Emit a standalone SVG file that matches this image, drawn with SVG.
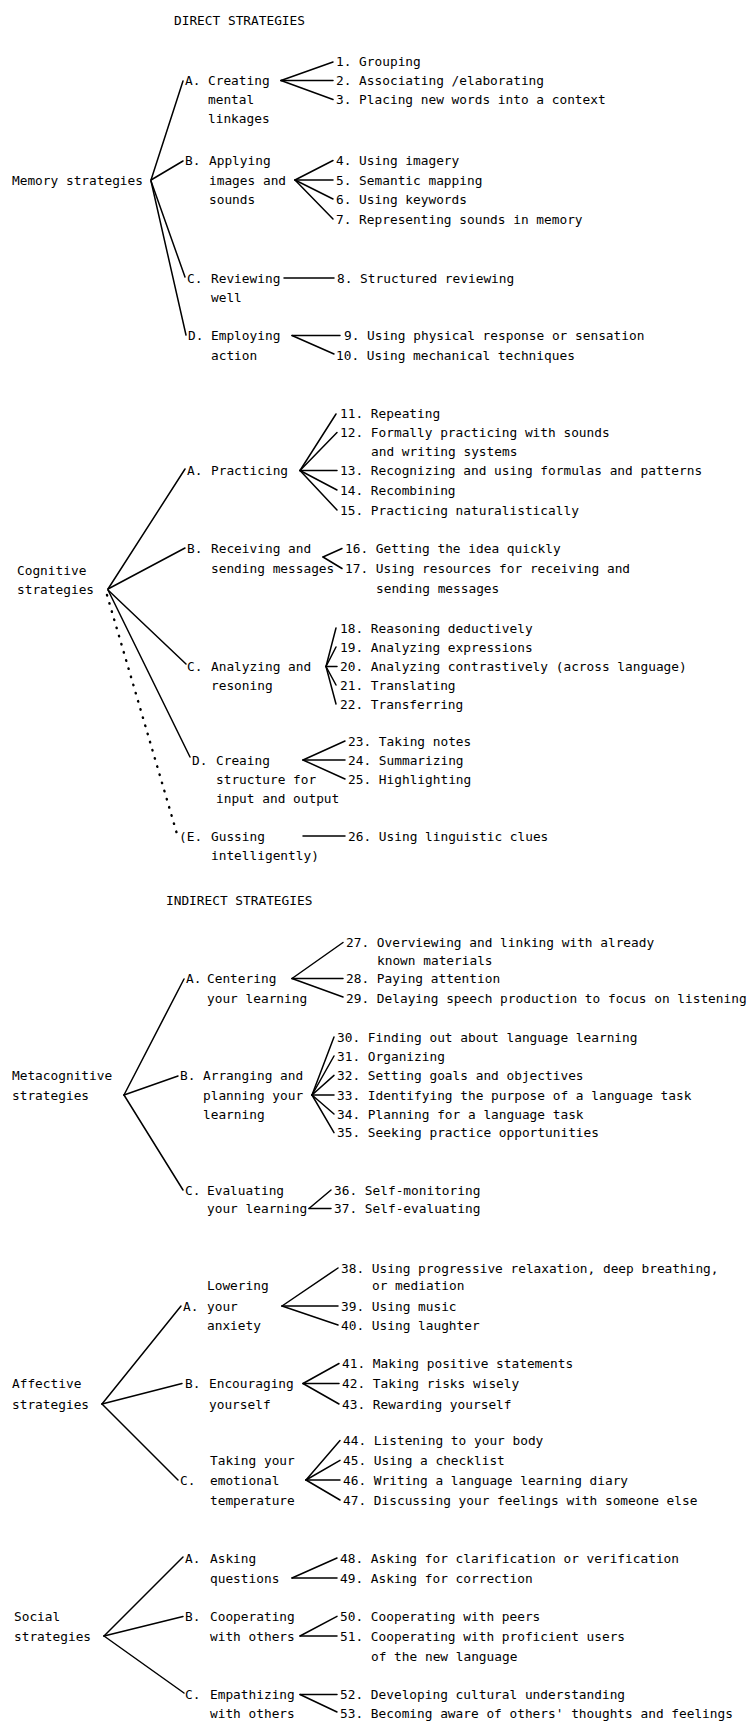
<svg xmlns="http://www.w3.org/2000/svg" width="751" height="1725" viewBox="0 0 751 1725">
<style>
text{font-family:"DejaVu Sans Mono","Liberation Mono",monospace;font-size:12.8px;fill:#000}
.c line{stroke:#000;stroke-width:1.5;fill:none;stroke-linecap:round}
.c line.dot{stroke-width:2.4;stroke-dasharray:0.5 8}
</style>
<rect width="751" height="1725" fill="#fff"/>
<g id="connectors" class="c">
<line x1="151" y1="180" x2="183" y2="81"/>
<line x1="151" y1="180" x2="183" y2="161"/>
<line x1="151" y1="181" x2="185" y2="277"/>
<line x1="151" y1="181" x2="186" y2="335"/>
<line x1="281" y1="80.5" x2="333" y2="62"/>
<line x1="281" y1="80.5" x2="333" y2="80.5"/>
<line x1="281" y1="80.5" x2="333" y2="99.5"/>
<line x1="295" y1="180" x2="333" y2="160.5"/>
<line x1="295" y1="180" x2="333" y2="180"/>
<line x1="295" y1="180" x2="333" y2="199"/>
<line x1="295" y1="180" x2="333" y2="219"/>
<line x1="284" y1="278" x2="334" y2="278"/>
<line x1="292" y1="335.5" x2="340" y2="335.5"/>
<line x1="292" y1="335.5" x2="334" y2="354"/>
<line x1="108" y1="589" x2="185" y2="469"/>
<line x1="108" y1="589" x2="185" y2="548"/>
<line x1="108" y1="590" x2="186" y2="664"/>
<line x1="108" y1="590" x2="190" y2="757"/>
<line class="dot" x1="107" y1="595" x2="177" y2="834"/>
<line x1="300" y1="470.5" x2="336" y2="414"/>
<line x1="300" y1="470.5" x2="337" y2="432.5"/>
<line x1="300" y1="470.5" x2="337" y2="470.5"/>
<line x1="300" y1="470.5" x2="337" y2="490"/>
<line x1="300" y1="470.5" x2="337" y2="510"/>
<line x1="323" y1="557" x2="342" y2="548.5"/>
<line x1="323" y1="557" x2="342" y2="568.5"/>
<line x1="326" y1="666.5" x2="336" y2="628"/>
<line x1="326" y1="666.5" x2="336" y2="647"/>
<line x1="326" y1="666.5" x2="337" y2="666.5"/>
<line x1="326" y1="666.5" x2="336" y2="685"/>
<line x1="326" y1="666.5" x2="336" y2="704"/>
<line x1="303" y1="760" x2="345" y2="741"/>
<line x1="303" y1="760" x2="345" y2="760"/>
<line x1="303" y1="760" x2="345" y2="779"/>
<line x1="303" y1="836" x2="345" y2="836"/>
<line x1="124" y1="1095" x2="184" y2="979"/>
<line x1="124" y1="1095" x2="178" y2="1076"/>
<line x1="124" y1="1095" x2="183" y2="1190"/>
<line x1="292" y1="978.5" x2="343" y2="942.5"/>
<line x1="292" y1="978.5" x2="343" y2="978.5"/>
<line x1="292" y1="978.5" x2="343" y2="997"/>
<line x1="312" y1="1095" x2="334" y2="1037"/>
<line x1="312" y1="1095" x2="334" y2="1056"/>
<line x1="312" y1="1095" x2="334" y2="1075.4"/>
<line x1="312" y1="1095" x2="334" y2="1095"/>
<line x1="312" y1="1095" x2="334" y2="1114"/>
<line x1="312" y1="1095" x2="334" y2="1132.6"/>
<line x1="309" y1="1208.5" x2="331" y2="1190"/>
<line x1="309" y1="1208.5" x2="331" y2="1208.5"/>
<line x1="102" y1="1404" x2="181" y2="1306"/>
<line x1="102" y1="1404" x2="182" y2="1383.5"/>
<line x1="102" y1="1404" x2="178" y2="1480"/>
<line x1="282" y1="1306" x2="338" y2="1268"/>
<line x1="282" y1="1306" x2="338" y2="1306"/>
<line x1="282" y1="1306" x2="338" y2="1325"/>
<line x1="303" y1="1383.5" x2="339" y2="1363.5"/>
<line x1="303" y1="1383.5" x2="339" y2="1383.5"/>
<line x1="303" y1="1383.5" x2="339" y2="1404"/>
<line x1="306" y1="1480" x2="340" y2="1440.5"/>
<line x1="306" y1="1480" x2="340" y2="1460.3"/>
<line x1="306" y1="1480" x2="340" y2="1480"/>
<line x1="306" y1="1480" x2="340" y2="1500"/>
<line x1="104" y1="1636" x2="183" y2="1557"/>
<line x1="104" y1="1636" x2="183" y2="1616.4"/>
<line x1="104" y1="1636" x2="184" y2="1693"/>
<line x1="292" y1="1578" x2="337" y2="1558"/>
<line x1="292" y1="1578" x2="337" y2="1578"/>
<line x1="300" y1="1636" x2="337" y2="1616.4"/>
<line x1="300" y1="1636" x2="337" y2="1636"/>
<line x1="300" y1="1694.5" x2="337" y2="1694.5"/>
<line x1="300" y1="1694.5" x2="337" y2="1712"/>
</g>
<g id="direct-heading"><text x="174" y="25">DIRECT STRATEGIES</text></g>
<g id="memory"><text x="12" y="184.5">Memory strategies</text></g>
<g id="mem-a"><text y="85"><tspan x="185">A.</tspan><tspan x="208">Creating</tspan></text><text x="208" y="104">mental</text><text x="208" y="123">linkages</text></g>
<g id="i1"><text x="336" y="66">1. Grouping</text></g>
<g id="i2"><text x="336" y="85">2. Associating /elaborating</text></g>
<g id="i3"><text x="336" y="104">3. Placing new words into a context</text></g>
<g id="mem-b"><text y="165"><tspan x="185">B.</tspan><tspan x="209">Applying</tspan></text><text x="209" y="184.5">images and</text><text x="209" y="203.5">sounds</text></g>
<g id="i4"><text x="336" y="165">4. Using imagery</text></g>
<g id="i5"><text x="336" y="184.5">5. Semantic mapping</text></g>
<g id="i6"><text x="336" y="203.5">6. Using keywords</text></g>
<g id="i7"><text x="336" y="223.5">7. Representing sounds in memory</text></g>
<g id="mem-c"><text y="282.5"><tspan x="187">C.</tspan><tspan x="211">Reviewing</tspan></text><text x="211" y="301.5">well</text></g>
<g id="i8"><text x="337" y="282.5">8. Structured reviewing</text></g>
<g id="mem-d"><text y="340"><tspan x="188">D.</tspan><tspan x="211">Employing</tspan></text><text x="211" y="359.5">action</text></g>
<g id="i9"><text y="340"><tspan x="344">9.</tspan><tspan x="367">Using physical response or sensation</tspan></text></g>
<g id="i10"><text x="336" y="359.5">10. Using mechanical techniques</text></g>
<g id="cognitive"><text x="17" y="574.5">Cognitive</text><text x="17" y="594">strategies</text></g>
<g id="cog-a"><text y="475"><tspan x="187">A.</tspan><tspan x="211">Practicing</tspan></text></g>
<g id="i11"><text x="340" y="418">11. Repeating</text></g>
<g id="i12"><text x="340" y="436.5">12. Formally practicing with sounds</text><text x="371" y="455.5">and writing systems</text></g>
<g id="i13"><text x="340" y="475">13. Recognizing and using formulas and patterns</text></g>
<g id="i14"><text x="340" y="494.5">14. Recombining</text></g>
<g id="i15"><text x="340" y="514.5">15. Practicing naturalistically</text></g>
<g id="cog-b"><text y="553"><tspan x="187">B.</tspan><tspan x="211">Receiving and</tspan></text><text x="211" y="573">sending messages</text></g>
<g id="i16"><text x="345" y="553">16. Getting the idea quickly</text></g>
<g id="i17"><text x="345" y="573">17. Using resources for receiving and</text><text x="376" y="593">sending messages</text></g>
<g id="cog-c"><text y="671"><tspan x="187">C.</tspan><tspan x="211">Analyzing and</tspan></text><text x="211" y="689.5">resoning</text></g>
<g id="i18"><text x="340" y="632.5">18. Reasoning deductively</text></g>
<g id="i19"><text x="340" y="651.5">19. Analyzing expressions</text></g>
<g id="i20"><text x="340" y="671">20. Analyzing contrastively (across language)</text></g>
<g id="i21"><text x="340" y="689.5">21. Translating</text></g>
<g id="i22"><text x="340" y="708.5">22. Transferring</text></g>
<g id="cog-d"><text y="764.5"><tspan x="192">D.</tspan><tspan x="216">Creaing</tspan></text><text x="216" y="783.5">structure for</text><text x="216" y="803">input and output</text></g>
<g id="i23"><text x="348" y="745.5">23. Taking notes</text></g>
<g id="i24"><text x="348" y="764.5">24. Summarizing</text></g>
<g id="i25"><text x="348" y="783.5">25. Highlighting</text></g>
<g id="cog-e"><text y="840.5"><tspan x="179">(E.</tspan><tspan x="211">Gussing</tspan></text><text x="211" y="859.5">intelligently)</text></g>
<g id="i26"><text x="348" y="840.5">26. Using linguistic clues</text></g>
<g id="indirect-heading"><text x="166" y="905">INDIRECT STRATEGIES</text></g>
<g id="metacognitive"><text x="12" y="1079.5">Metacognitive</text><text x="12" y="1099.5">strategies</text></g>
<g id="meta-a"><text y="983"><tspan x="186">A.</tspan><tspan x="207">Centering</tspan></text><text x="207" y="1002.5">your learning</text></g>
<g id="i27"><text x="346" y="946.5">27. Overviewing and linking with already</text><text x="377" y="964.5">known materials</text></g>
<g id="i28"><text x="346" y="983">28. Paying attention</text></g>
<g id="i29"><text x="346" y="1002.5">29. Delaying speech production to focus on listening</text></g>
<g id="meta-b"><text y="1080"><tspan x="180">B.</tspan><tspan x="203">Arranging and</tspan></text><text x="203" y="1099.5">planning your</text><text x="203" y="1118.5">learning</text></g>
<g id="i30"><text x="337" y="1041.5">30. Finding out about language learning</text></g>
<g id="i31"><text x="337" y="1060.5">31. Organizing</text></g>
<g id="i32"><text x="337" y="1080">32. Setting goals and objectives</text></g>
<g id="i33"><text x="337" y="1099.5">33. Identifying the purpose of a language task</text></g>
<g id="i34"><text x="337" y="1118.5">34. Planning for a language task</text></g>
<g id="i35"><text x="337" y="1137">35. Seeking practice opportunities</text></g>
<g id="meta-c"><text y="1194.5"><tspan x="185">C.</tspan><tspan x="207">Evaluating</tspan></text><text x="207" y="1213">your learning</text></g>
<g id="i36"><text x="334" y="1194.5">36. Self-monitoring</text></g>
<g id="i37"><text x="334" y="1213">37. Self-evaluating</text></g>
<g id="affective"><text x="12" y="1388">Affective</text><text x="12" y="1408.5">strategies</text></g>
<g id="aff-a"><text x="207" y="1290">Lowering</text><text y="1310.5"><tspan x="183">A.</tspan><tspan x="207">your</tspan></text><text x="207" y="1329.5">anxiety</text></g>
<g id="i38"><text x="341" y="1272.5">38. Using progressive relaxation, deep breathing,</text><text x="372" y="1290">or mediation</text></g>
<g id="i39"><text x="341" y="1310.5">39. Using music</text></g>
<g id="i40"><text x="341" y="1329.5">40. Using laughter</text></g>
<g id="aff-b"><text y="1388"><tspan x="185">B.</tspan><tspan x="209">Encouraging</tspan></text><text x="209" y="1408.5">yourself</text></g>
<g id="i41"><text x="342" y="1368">41. Making positive statements</text></g>
<g id="i42"><text x="342" y="1388">42. Taking risks wisely</text></g>
<g id="i43"><text x="342" y="1408.5">43. Rewarding yourself</text></g>
<g id="aff-c"><text x="210" y="1465">Taking your</text><text y="1484.5"><tspan x="180">C.</tspan><tspan x="210">emotional</tspan></text><text x="210" y="1504.5">temperature</text></g>
<g id="i44"><text x="343" y="1445">44. Listening to your body</text></g>
<g id="i45"><text x="343" y="1465">45. Using a checklist</text></g>
<g id="i46"><text x="343" y="1484.5">46. Writing a language learning diary</text></g>
<g id="i47"><text x="343" y="1504.5">47. Discussing your feelings with someone else</text></g>
<g id="social"><text x="14" y="1621">Social</text><text x="14" y="1640.5">strategies</text></g>
<g id="soc-a"><text y="1562.5"><tspan x="185">A.</tspan><tspan x="210">Asking</tspan></text><text x="210" y="1582.5">questions</text></g>
<g id="i48"><text x="340" y="1562.5">48. Asking for clarification or verification</text></g>
<g id="i49"><text x="340" y="1582.5">49. Asking for correction</text></g>
<g id="soc-b"><text y="1621"><tspan x="185">B.</tspan><tspan x="210">Cooperating</tspan></text><text x="210" y="1640.5">with others</text></g>
<g id="i50"><text x="340" y="1621">50. Cooperating with peers</text></g>
<g id="i51"><text x="340" y="1640.5">51. Cooperating with proficient users</text><text x="371" y="1660.5">of the new language</text></g>
<g id="soc-c"><text y="1699"><tspan x="185">C.</tspan><tspan x="210">Empathizing</tspan></text><text x="210" y="1717.5">with others</text></g>
<g id="i52"><text x="340" y="1699">52. Developing cultural understanding</text></g>
<g id="i53"><text x="340" y="1717.5">53. Becoming aware of others' thoughts and feelings</text></g>
</svg>
